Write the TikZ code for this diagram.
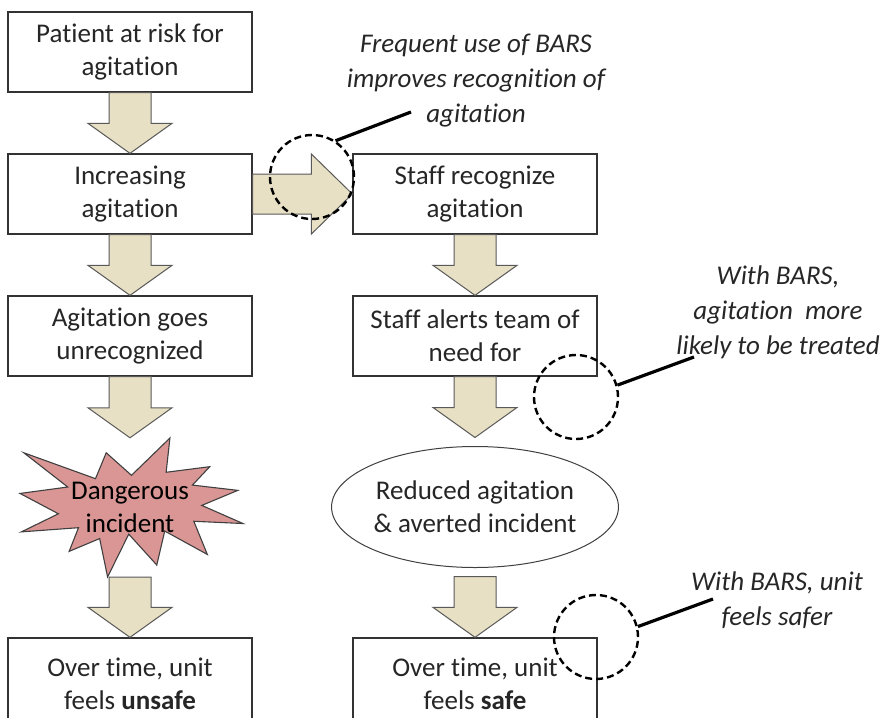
\documentclass[tikz,border=0pt]{standalone}
\usepackage{fontspec}
\setmainfont{Carlito}[Ligatures={NoCommon}]
\usetikzlibrary{calc,shapes.geometric}

\definecolor{tan}{HTML}{E8E0C4}
\definecolor{burst}{HTML}{D99694}

% fat block arrow from the bottom of one node to the top of the next
\newcommand{\fatdown}[2]{%
  \draw[fatarrow] ($(#1)+(-21,0)$) -- ($(#1)+(21,0)$) -- ($(#2)+(21,-30)$)
    -- ($(#2)+(42,-30)$) -- (#2) -- ($(#2)+(-42,-30)$) -- ($(#2)+(-21,-30)$) -- cycle;}

\begin{document}
\begin{tikzpicture}[x=1pt,y=-1pt,
    txt/.style={font=\fontsize{27}{33}\selectfont, text=black!85, align=center},
    box/.style={txt, draw=black!80, line width=1.3, fill=white,
                minimum width=244, minimum height=80, inner sep=0},
    oval/.style={txt, ellipse, draw=black!75, line width=1, fill=white,
                 minimum width=188, minimum height=121, inner sep=0, outer sep=9},
    fatarrow/.style={fill=tan, draw=black!65, line width=1},
    note/.style={font=\fontsize{27}{35}\selectfont\itshape, text=black!85, align=center},
    ring/.style={circle, draw=black, dashed, dash pattern=on 7 off 4, line width=2.4,
                 minimum size=84, inner sep=0},
    pointer/.style={line width=3.2, black}]

    \useasboundingbox (0,0) rectangle (882,717);

    % Left column
    \node[box] (risk)  at (130,52)  {Patient at risk for\\agitation};
    \node[box] (incr)  at (130,194) {Increasing\\agitation};
    \node[box] (unrec) at (130,336) {Agitation goes\\unrecognized};

    % Explosion shape behind the incident text
    \begin{scope}[shift={(20,438)}, xscale=1.0324, yscale=0.6435]
    \filldraw[fill=burst, draw=black!75, line width=1.1]
        (108,58) -- (145.22,0) -- (141.55,53.25) -- (183.8,44.57) -- (167.02,73.15)
        -- (210.97,81.37) -- (176.07,104.75) -- (216,132.9) -- (168.37,129.42)
        -- (181.45,180.95) -- (140.2,144.57) -- (132.47,197.37) -- (105.32,149.35)
        -- (84.85,216) -- (77.15,156.27) -- (47.62,176.17) -- (56.67,139.37)
        -- (1.35,145.87) -- (37.22,117.75) -- (0,86.15) -- (46.27,76.17)
        -- (3.7,22.95) -- (73.12,63.2) -- (83.52,22.95) -- cycle;
    \end{scope}
    \node[txt, text=black, minimum width=223, minimum height=139, inner sep=0] (danger)
        at (130,507.5) {Dangerous\\incident};

    % bottom boxes run past the lower edge
    \node[box, minimum height=92] (unsafe) at (130,684) {Over time, unit\\feels \textbf{unsafe}};

    % Right column
    \node[box]  (recog)   at (475,194) {Staff recognize\\agitation};
    \node[box]  (alerts)  at (475,336) {Staff alerts team of\\need for};
    \node[oval] (reduced) at (475,507) {Reduced agitation\\\&~averted incident};
    \node[box, minimum height=92] (safe) at (475,684) {Over time, unit\\feels \textbf{safe}};

    % Block arrows
    \fatdown{risk.south}{incr.north}
    \fatdown{incr.south}{unrec.north}
    \fatdown{unrec.south}{danger.north}
    \fatdown{danger.south}{unsafe.north}
    \fatdown{recog.south}{alerts.north}
    \fatdown{alerts.south}{reduced.north}
    \fatdown{reduced.south}{safe.north}
    \draw[fatarrow] ($(incr.east)+(0,-20)$) -- ($(recog.west)+(-41,-20)$)
        -- ($(recog.west)+(-41,-40)$) -- (recog.west) -- ($(recog.west)+(-41,40)$)
        -- ($(recog.west)+(-41,20)$) -- ($(incr.east)+(0,20)$) -- cycle;

    % Notes about BARS
    \node[note] (noteA) at (476,81)  {Frequent use of BARS\\improves recognition of\\agitation};
    \node[note] (noteB) at (778,312) {With BARS,\\agitation~ more\\likely to be treated};
    \node[note] (noteC) at (777,600) {With BARS, unit\\feels safer};
    \coordinate (tipA) at (411,112);
    \coordinate (tipB) at (694,357);
    \coordinate (tipC) at (713,599);

    \node[ring] (ringA) at (312,177) {};
    \node[ring] (ringB) at (576,397) {};
    \node[ring] (ringC) at (596,637) {};
    \draw[pointer] (ringA.57) -- (tipA);
    \draw[pointer] (ringB.16) -- (tipB);
    \draw[pointer] (ringC.14) -- (tipC);

\end{tikzpicture}
\end{document}
